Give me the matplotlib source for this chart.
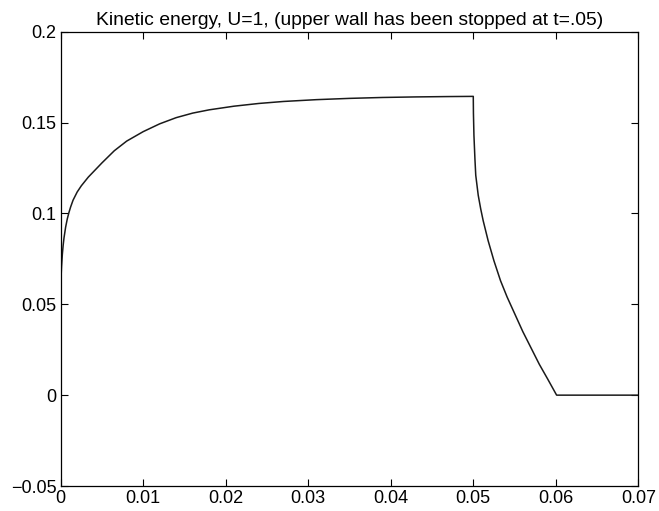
import matplotlib
matplotlib.use("Agg")
import matplotlib.pyplot as plt

plt.rcParams['font.family'] = ['Liberation Sans', 'DejaVu Sans']

# rise phase (moving wall)
t_rise = [0.0, 0.00005, 0.0001, 0.0002, 0.0003, 0.0004, 0.0006, 0.0008, 0.001, 0.0012,
          0.0015, 0.002, 0.0025, 0.00335, 0.005, 0.0065, 0.008, 0.01, 0.012, 0.014,
          0.016, 0.018, 0.021, 0.024, 0.027, 0.031, 0.035, 0.039, 0.043, 0.047, 0.05]
ke_rise = [0.0568, 0.0655, 0.0705, 0.0775, 0.0825, 0.0865, 0.0925, 0.097, 0.1005, 0.1035,
           0.1073, 0.1118, 0.1152, 0.120, 0.1278, 0.1345, 0.1398, 0.1450, 0.1493, 0.1527,
           0.1552, 0.1570, 0.1590, 0.1605, 0.1616, 0.1626, 0.1633, 0.1638, 0.1641, 0.1643, 0.1644]
# decay phase (wall stopped)
t_decay = [0.05, 0.05002, 0.05008, 0.0502, 0.0503, 0.0506, 0.0509, 0.0512, 0.0518, 0.0525,
           0.0533, 0.0541, 0.055, 0.056, 0.057, 0.058, 0.059, 0.0601, 0.07]
ke_decay = [0.1644, 0.155, 0.143, 0.130, 0.121, 0.110, 0.1025, 0.096, 0.085, 0.074,
            0.063, 0.054, 0.045, 0.035, 0.026, 0.017, 0.009, 0.0, 0.0]

xticks = [0, 0.01, 0.02, 0.03, 0.04, 0.05, 0.06, 0.07]
xticklabels = ['0', '0.01', '0.02', '0.03', '0.04', '0.05', '0.06', '0.07']
yticks = [-0.05, 0, 0.05, 0.1, 0.15, 0.2]
yticklabels = ['\u22120.05', '0', '0.05', '0.1', '0.15', '0.2']

t = t_rise + t_decay
ke = ke_rise + ke_decay

fig = plt.figure(figsize=(6.59, 5.11), dpi=100)
ax = fig.add_axes([0.0921, 0.0489, 0.9686 - 0.0921, 0.938 - 0.0489])
ax.plot(t, ke, color='#1a1a1a', linewidth=1.1)
ax.set_xlim(0, 0.07)
ax.set_ylim(-0.05, 0.2)
ax.set_xticks(xticks)
ax.set_xticklabels(xticklabels)
ax.set_yticks(yticks)
ax.set_yticklabels(yticklabels)
ax.tick_params(direction='in', top=True, right=True, length=5, width=0.8,
               labelsize=13, pad=3, colors='black')
for s in ax.spines.values():
    s.set_linewidth(0.9)
ax.set_title('Kinetic energy, U=1, (upper wall has been stopped at t=.05)', fontsize=13.9, pad=5)
fig.savefig('out.png', dpi=100)
